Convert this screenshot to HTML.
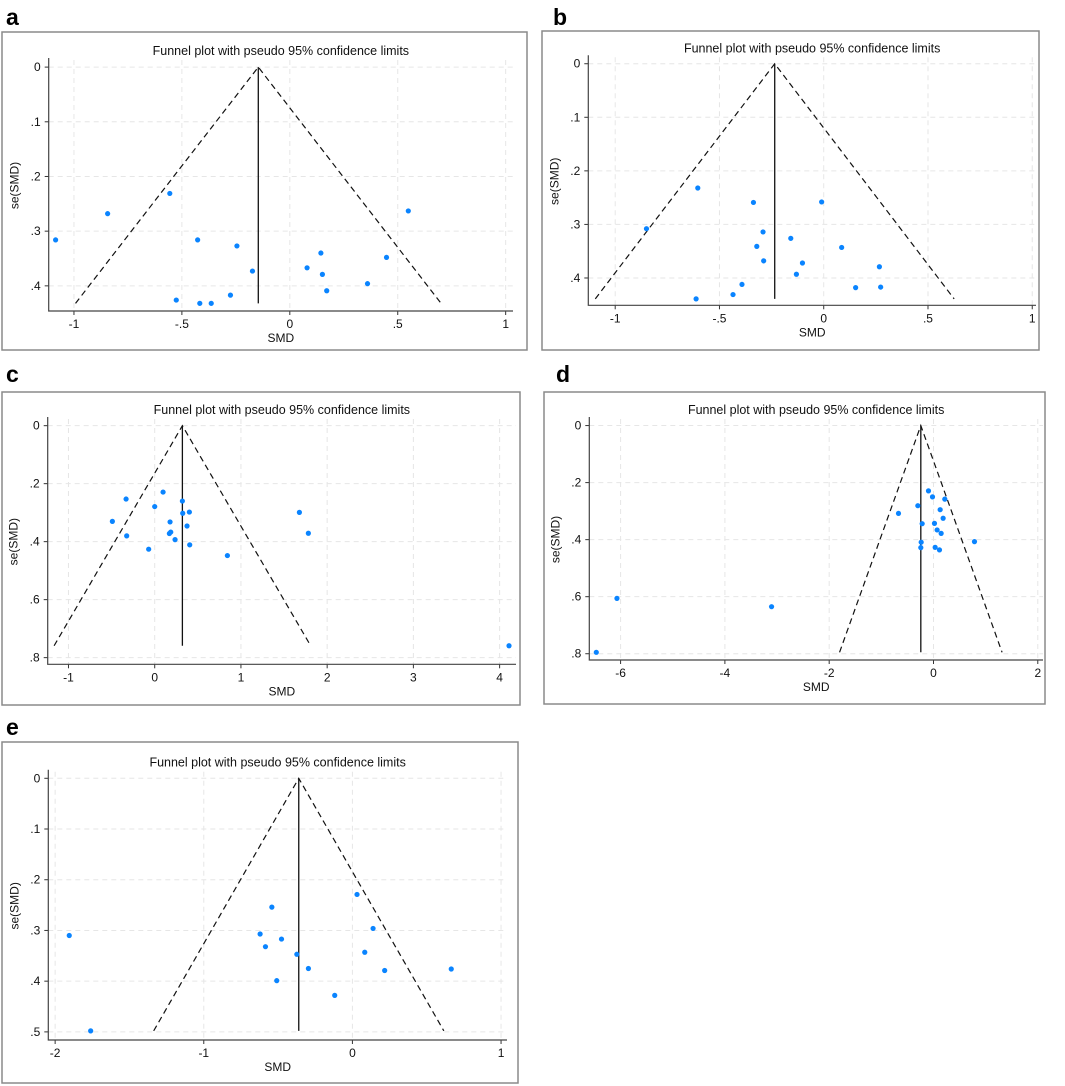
<!DOCTYPE html>
<html><head><meta charset="utf-8"><style>
html,body{margin:0;padding:0;background:#fff;}
svg{display:block;font-family:"Liberation Sans",Arial,sans-serif;}
</style></head><body>
<svg id="fig" width="1065" height="1086" viewBox="0 0 1065 1086" xmlns="http://www.w3.org/2000/svg"></svg>
<script>
// Panel a data
const aSMD=[-1.085,-0.844,-0.556,-0.427,-0.245,-0.173,-0.526,-0.417,-0.364,-0.275,0.080,0.144,0.151,0.171,0.360,0.448,0.549];
const aSE=[0.316,0.268,0.231,0.316,0.327,0.373,0.426,0.432,0.432,0.417,0.367,0.340,0.379,0.409,0.396,0.348,0.263];
const aCenter=-0.146;
const aXTicks=[-1,-0.5,0,0.5,1];
const aXTickLabels=["-1","-.5","0",".5","1"];
const aYTicks=[0,0.1,0.2,0.3,0.4];
const aYTickLabels=["0",".1",".2",".3",".4"];
// Panel b data
const bSMD=[-0.850,-0.604,-0.337,-0.010,-0.291,-0.158,-0.321,0.086,-0.288,-0.102,-0.131,0.267,-0.392,-0.435,-0.612,0.153,0.273];
const bSE=[0.308,0.232,0.259,0.258,0.314,0.326,0.341,0.343,0.368,0.372,0.393,0.379,0.412,0.431,0.439,0.418,0.417];
const bCenter=-0.235;
const bXTicks=[-1,-0.5,0,0.5,1];
const bXTickLabels=["-1","-.5","0",".5","1"];
const bYTicks=[0,0.1,0.2,0.3,0.4];
const bYTickLabels=["0",".1",".2",".3",".4"];
// Panel c data
const cSMD=[-0.332,0.097,0,-0.491,-0.325,-0.070,0.321,0.325,0.402,0.178,0.170,0.186,0.375,0.236,0.406,0.843,1.678,1.782,4.109];
const cSE=[0.253,0.229,0.279,0.330,0.380,0.426,0.260,0.302,0.298,0.332,0.372,0.367,0.346,0.393,0.411,0.448,0.299,0.371,0.759];
const cCenter=0.321;
const cXTicks=[-1,0,1,2,3,4];
const cXTickLabels=["-1","0","1","2","3","4"];
const cYTicks=[0,0.2,0.4,0.6,0.8];
const cYTickLabels=["0",".2",".4",".6",".8"];
// Panel d data
const dSMD=[-6.466,-6.070,-3.105,-0.671,-0.300,-0.096,-0.019,0.217,0.128,0.185,-0.217,0.019,0.070,0.147,-0.236,-0.243,0.032,0.115,0.786];
const dSE=[0.795,0.606,0.635,0.308,0.281,0.229,0.250,0.258,0.295,0.325,0.344,0.343,0.366,0.378,0.409,0.428,0.427,0.436,0.407];
const dCenter=-0.243;
const dXTicks=[-6,-4,-2,0,2];
const dXTickLabels=["-6","-4","-2","0","2"];
const dYTicks=[0,0.2,0.4,0.6,0.8];
const dYTickLabels=["0",".2",".4",".6",".8"];
// Panel e data
const eSMD=[-1.905,-1.761,-0.542,-0.621,-0.477,-0.585,-0.374,-0.296,-0.509,-0.119,0.031,0.139,0.083,0.217,0.665];
const eSE=[0.310,0.498,0.254,0.307,0.317,0.332,0.347,0.375,0.399,0.428,0.229,0.296,0.343,0.379,0.376];
const eCenter=-0.361;
const eXTicks=[-2,-1,0,1];
const eXTickLabels=["-2","-1","0","1"];
const eYTicks=[0,0.1,0.2,0.3,0.4,0.5];
const eYTickLabels=["0",".1",".2",".3",".4",".5"];

const NS="http://www.w3.org/2000/svg";
const svg=document.getElementById('fig');
function mk(tag,attrs,parent){const e=document.createElementNS(NS,tag);for(const k in attrs)e.setAttribute(k,attrs[k]);(parent||svg).appendChild(e);return e;}

const panels=[
 {id:'a',smd:aSMD,se:aSE,center:aCenter,xt:aXTicks,xl:aXTickLabels,yt:aYTicks,yl:aYTickLabels,
  frame:[2,32,525,318],letter:[6,25],L:48.7,R:513,T:60,B:311,x0:-1.117,x1:1.034,y0:-0.013,y1:0.446},
 {id:'b',smd:bSMD,se:bSE,center:bCenter,xt:bXTicks,xl:bXTickLabels,yt:bYTicks,yl:bYTickLabels,
  frame:[542,31,497,319],letter:[553,25],L:588.3,R:1036,T:57.3,B:305.3,x0:-1.129,x1:1.018,y0:-0.012,y1:0.451},
 {id:'c',smd:cSMD,se:cSE,center:cCenter,xt:cXTicks,xl:cXTickLabels,yt:cYTicks,yl:cYTickLabels,
  frame:[2,392,518,313],letter:[6,382],L:47.7,R:516,T:419,B:664.3,x0:-1.241,x1:4.19,y0:-0.023,y1:0.823},
 {id:'d',smd:dSMD,se:dSE,center:dCenter,xt:dXTicks,xl:dXTickLabels,yt:dYTicks,yl:dYTickLabels,
  frame:[544,392,501,312],letter:[556,382],L:589.3,R:1043,T:419,B:660,x0:-6.60,x1:2.10,y0:-0.023,y1:0.822},
 {id:'e',smd:eSMD,se:eSE,center:eCenter,xt:eXTicks,xl:eXTickLabels,yt:eYTicks,yl:eYTickLabels,
  frame:[2,742,516,341],letter:[6,735],L:48.3,R:507,T:771.7,B:1040,x0:-2.046,x1:1.04,y0:-0.013,y1:0.516}
];

panels.forEach(p=>{
  const g=mk('g',{});
  
  
  const xs=v=>p.L+(v-p.x0)/(p.x1-p.x0)*(p.R-p.L);
  const ys=v=>p.T+(v-p.y0)/(p.y1-p.y0)*(p.B-p.T);
  const lt=mk('text',{x:p.letter[0],y:p.letter[1],'font-size':23,'font-weight':'bold',fill:'#000'},g);
  lt.textContent=p.id;
  
  
  const fr=mk('rect',{x:p.frame[0],y:p.frame[1],width:p.frame[2],height:p.frame[3],fill:'#fff',stroke:'#8a8a8a','stroke-width':1.5},g);
  
  
  const cx=(p.L+p.R)/2;
  const tt=mk('text',{x:cx,y:p.T-5,'font-size':12.5,'text-anchor':'middle',fill:'#111'},g);
  tt.textContent='Funnel plot with pseudo 95% confidence limits';
  
  
  // gridlines
  p.xt.forEach((v,i)=>{
    const gl=mk('line',{x1:xs(v),x2:xs(v),y1:p.T,y2:p.B,stroke:'#e6e6e6','stroke-dasharray':'5,4','stroke-width':1},g);
    
    
    const tk=mk('line',{x1:xs(v),x2:xs(v),y1:p.B,y2:p.B+4,stroke:'#333'},g);
    
    
    const tl=mk('text',{x:xs(v),y:p.B+17,'font-size':12,'text-anchor':'middle',fill:'#111'},g);
    tl.textContent=p.xl[i];
    
    
  });
  p.yt.forEach((v,i)=>{
    const gl=mk('line',{x1:p.L,x2:p.R,y1:ys(v),y2:ys(v),stroke:'#e6e6e6','stroke-dasharray':'5,4','stroke-width':1},g);
    
    
    const tk=mk('line',{x1:p.L-4,x2:p.L,y1:ys(v),y2:ys(v),stroke:'#333'},g);
    
    
    const tl=mk('text',{x:p.L-8,y:ys(v)+4,'font-size':12,'text-anchor':'end',fill:'#111'},g);
    tl.textContent=p.yl[i];
    
    
  });
  const ax=mk('path',{d:`M${p.L},${p.T-2}V${p.B}H${p.R}`,fill:'none',stroke:'#444','stroke-width':1.2},g);
  
  
  const xlab=mk('text',{x:cx,y:p.B+31,'font-size':12,'text-anchor':'middle',fill:'#111'},g);
  xlab.textContent='SMD';
  
  
  const yx=p.L-30, yy=(p.T+p.B)/2;
  const ylab=mk('text',{x:yx,y:yy,'font-size':12,'text-anchor':'middle',fill:'#111',transform:`rotate(-90 ${yx} ${yy})`},g);
  ylab.textContent='se(SMD)';
  
  
  // funnel
  const maxSE=Math.max(...p.se);
  const fl=mk('path',{d:`M${xs(p.center-1.96*maxSE)},${ys(maxSE)}L${xs(p.center)},${ys(0)}L${xs(p.center+1.96*maxSE)},${ys(maxSE)}`,fill:'none',stroke:'#111','stroke-width':1.2,'stroke-dasharray':'6,4'},g);
  
  
  const vl=mk('line',{x1:xs(p.center),x2:xs(p.center),y1:ys(0),y2:ys(maxSE),stroke:'#111','stroke-width':1.3},g);
  
  
  p.smd.forEach((v,i)=>{
    const c=mk('circle',{cx:xs(v),cy:ys(p.se[i]),r:2.6,fill:'#0a84ff'},g);
    
    
  });
});
</script>
</body></html>
